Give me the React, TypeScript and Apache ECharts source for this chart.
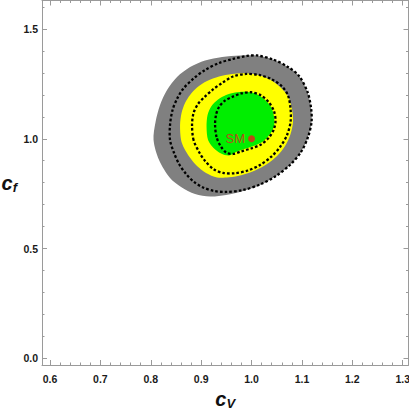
import React, { useEffect, useRef } from "react";
import * as echarts from "echarts";

// Axis ticks
const xMajorTicks = [0.6, 0.7, 0.8, 0.9, 1.0, 1.1, 1.2, 1.3];
const xMinorTicks = [
  0.62, 0.64, 0.66, 0.68, 0.72, 0.74, 0.76, 0.78, 0.82, 0.84, 0.86, 0.88,
  0.92, 0.94, 0.96, 0.98, 1.02, 1.04, 1.06, 1.08, 1.12, 1.14, 1.16, 1.18,
  1.22, 1.24, 1.26, 1.28,
];
const yMajorTicks = [0.0, 0.5, 1.0, 1.5];
const yMinorTicks = [0.1, 0.2, 0.3, 0.4, 0.6, 0.7, 0.8, 0.9, 1.1, 1.2, 1.3, 1.4, 1.6];
const xRange = [0.5841, 1.3115];
const yRange = [-0.0305, 1.6298];

// Filled regions (boundary points c_V, c_f), clockwise from the left
const grayRegion = [
  [0.8055, 0.9945], [0.8095, 1.0765], [0.8184, 1.154], [0.8323, 1.2223], [0.8521, 1.2815],
  [0.878, 1.327], [0.9077, 1.3567], [0.9415, 1.3726], [0.9772, 1.3794], [1.0109, 1.3794],
  [1.0427, 1.3612], [1.0724, 1.327], [1.0943, 1.286], [1.1111, 1.2132], [1.1181, 1.1403],
  [1.1191, 1.0765], [1.1121, 1.0082], [1.0982, 0.9399], [1.0764, 0.8807], [1.0486, 0.8306],
  [1.0169, 0.7896], [0.9831, 0.7622], [0.9494, 0.744], [0.9176, 0.7372], [0.8879, 0.7486],
  [0.8601, 0.7805], [0.8382, 0.8214], [0.8164, 0.9034],
];
const yellowRegion = [
  [0.8601, 0.9945], [0.8581, 1.0629], [0.8611, 1.1175], [0.868, 1.1631], [0.878, 1.1995],
  [0.8918, 1.2337], [0.9117, 1.2633], [0.9355, 1.2838], [0.9613, 1.2952], [0.9871, 1.2984],
  [1.0129, 1.2906], [1.0367, 1.2701], [1.0566, 1.2359], [1.0714, 1.1972], [1.0794, 1.1448],
  [1.0824, 1.0811], [1.0774, 1.0219], [1.0665, 0.9672], [1.0506, 0.9217], [1.0308, 0.8852],
  [1.0069, 0.8556], [0.9811, 0.8351], [0.9553, 0.8246], [0.9315, 0.8237], [0.9097, 0.8442],
  [0.8918, 0.8761], [0.8769, 0.9171], [0.866, 0.9581],
];
const greenRegion = [
  [0.9137, 0.9945], [0.9107, 1.0537], [0.9127, 1.1084], [0.9206, 1.1494], [0.9335, 1.179],
  [0.9494, 1.1995], [0.9673, 1.2109], [0.9871, 1.2145], [1.0069, 1.2063], [1.0248, 1.1813],
  [1.0387, 1.1448], [1.0447, 1.0993], [1.0447, 1.0583], [1.0367, 1.0219], [1.0238, 0.99],
  [1.0089, 0.9718], [0.9871, 0.9545], [0.9692, 0.9399], [0.9553, 0.9239], [0.9395, 0.933],
  [0.9246, 0.9581],
];

// Dashed contours
const outerContour = [
  [0.8382, 0.9945], [0.8382, 1.0629], [0.8432, 1.1312], [0.8521, 1.1813], [0.864, 1.2268],
  [0.8839, 1.2724], [0.9077, 1.3134], [0.9355, 1.3453], [0.9633, 1.3635], [0.9911, 1.3772],
  [1.0109, 1.3794], [1.0427, 1.3612], [1.0724, 1.327], [1.0943, 1.286], [1.1111, 1.2132],
  [1.1181, 1.1403], [1.1191, 1.0765], [1.1121, 1.0082], [1.0982, 0.9399], [1.0764, 0.8807],
  [1.0486, 0.8306], [1.0169, 0.7918], [0.9831, 0.7668], [0.9494, 0.7577], [0.9256, 0.7622],
  [0.9037, 0.7782], [0.8859, 0.8032], [0.87, 0.8397], [0.8561, 0.8852], [0.8462, 0.9353],
];
const middleContour = [
  [0.8849, 0.9945], [0.8819, 1.0629], [0.8849, 1.1175], [0.8938, 1.1585], [0.9057, 1.1881],
  [0.9236, 1.2246], [0.9415, 1.2542], [0.9633, 1.2838], [0.9891, 1.2952], [1.0149, 1.2906],
  [1.0387, 1.2724], [1.0605, 1.2382], [1.0724, 1.1972], [1.0774, 1.1357], [1.0774, 1.0765],
  [1.0705, 1.0173], [1.0566, 0.9626], [1.0387, 0.9171], [1.0169, 0.8807], [0.9931, 0.8556],
  [0.9673, 0.8429], [0.9434, 0.8442], [0.9256, 0.8602], [0.9077, 0.8989], [0.8958, 0.9399],
];
const innerContour = [
  [0.9305, 1.0082], [0.9276, 1.0629], [0.9295, 1.1084], [0.9355, 1.1448], [0.9464, 1.1722],
  [0.9613, 1.1904], [0.9792, 1.2063], [0.999, 1.2118], [1.0189, 1.1972], [1.0347, 1.1653],
  [1.0447, 1.1243], [1.0476, 1.0811], [1.0437, 1.0401], [1.0337, 1.0036], [1.0189, 0.974],
  [0.999, 0.9558], [0.9792, 0.9422], [0.9633, 0.9308], [0.9494, 0.9376], [0.9385, 0.9672],
];

const smPoint = [[1.0, 1.0]];

const frameColor = "#9a9a9a";
const tickFont = {
  fontSize: 10.5,
  fontWeight: "bold" as const,
  color: "#1a1a1a",
  fontFamily: "Liberation Sans, Arial, sans-serif",
};

function regionSeries(pts: number[][], fill: string, z: number) {
  return {
    type: "custom",
    coordinateSystem: "cartesian2d",
    xAxisIndex: 0,
    yAxisIndex: 0,
    data: [pts[0]],
    silent: true,
    z,
    renderItem: (_params: any, api: any) => ({
      type: "polygon",
      shape: { points: pts.map((p) => api.coord(p)), smooth: 0.3 },
      style: { fill, stroke: "none" },
    }),
  };
}

function contourSeries(pts: number[][], z: number) {
  return {
    type: "custom",
    coordinateSystem: "cartesian2d",
    xAxisIndex: 0,
    yAxisIndex: 0,
    data: [pts[0]],
    silent: true,
    z,
    renderItem: (_params: any, api: any) => ({
      type: "polygon",
      shape: { points: pts.map((p) => api.coord(p)), smooth: 0.3 },
      style: { fill: "none", stroke: "#000", lineWidth: 2.3, lineDash: [2.6, 2.1] },
    }),
  };
}

const nameFont = "Liberation Sans, Arial, sans-serif";
const nameRich = {
  c: { fontSize: 20, fontWeight: "bold", fontStyle: "italic", fontFamily: nameFont, color: "#111", lineHeight: 20 },
  s: { fontSize: 13, fontWeight: "bold", fontStyle: "italic", fontFamily: nameFont, color: "#111", lineHeight: 22, verticalAlign: "bottom" },
};

export default function App() {
  const ref = useRef<HTMLDivElement>(null);
  useEffect(() => {
    if (!ref.current) return;
    const chart = echarts.init(ref.current, undefined, { renderer: "svg" });
    const majorX = (position: string, withLabel: boolean) => ({
      type: "value",
      position,
      min: xRange[0],
      max: xRange[1],
      axisLine: { show: true, onZero: false, lineStyle: { color: frameColor, width: 1 } },
      axisTick: { show: true, inside: true, length: 5, customValues: xMajorTicks, lineStyle: { color: frameColor } },
      axisLabel: withLabel
        ? { show: true, customValues: xMajorTicks, formatter: (v: number) => v.toFixed(1), margin: 8, ...tickFont }
        : { show: false },
      splitLine: { show: false },
    });
    const minorX = (position: string) => ({
      type: "value",
      position,
      min: xRange[0],
      max: xRange[1],
      axisLine: { show: false, onZero: false },
      axisTick: { show: true, inside: true, length: 2.5, customValues: xMinorTicks, lineStyle: { color: frameColor } },
      axisLabel: { show: false },
      splitLine: { show: false },
    });
    const majorY = (position: string, withLabel: boolean) => ({
      type: "value",
      position,
      min: yRange[0],
      max: yRange[1],
      axisLine: { show: true, onZero: false, lineStyle: { color: frameColor, width: 1 } },
      axisTick: { show: true, inside: true, length: 5, customValues: yMajorTicks, lineStyle: { color: frameColor } },
      axisLabel: withLabel
        ? { show: true, customValues: yMajorTicks, formatter: (v: number) => v.toFixed(1), margin: 4, ...tickFont }
        : { show: false },
      splitLine: { show: false },
    });
    const minorY = (position: string) => ({
      type: "value",
      position,
      min: yRange[0],
      max: yRange[1],
      axisLine: { show: false, onZero: false },
      axisTick: { show: true, inside: true, length: 2.5, customValues: yMinorTicks, lineStyle: { color: frameColor } },
      axisLabel: { show: false },
      splitLine: { show: false },
    });

    const xMain: any = majorX("bottom", true);
    xMain.name = "{c|c}{s|V}";
    xMain.nameLocation = "middle";
    xMain.nameGap = 20;
    xMain.nameTextStyle = { rich: nameRich };
    const yMain: any = majorY("left", true);
    yMain.name = "{c|c}{s|f}";
    yMain.nameLocation = "middle";
    yMain.nameRotate = 0;
    yMain.nameGap = 25;
    yMain.nameTextStyle = { rich: nameRich };

    chart.setOption({
      animation: false,
      backgroundColor: "#ffffff",
      grid: { left: 42, right: 0.5, top: 0.5, bottom: 45, containLabel: false, outerBoundsMode: "none" },
      xAxis: [xMain, minorX("bottom"), majorX("top", false), minorX("top")],
      yAxis: [yMain, minorY("left"), majorY("right", false), minorY("right")],
      series: [
        regionSeries(grayRegion, "#808080", 1),
        regionSeries(yellowRegion, "#ffff00", 2),
        regionSeries(greenRegion, "#00ee00", 3),
        contourSeries(outerContour, 4),
        contourSeries(middleContour, 5),
        contourSeries(innerContour, 6),
        {
          type: "scatter",
          xAxisIndex: 0,
          yAxisIndex: 0,
          data: smPoint,
          symbol: "circle",
          symbolSize: 7,
          itemStyle: { color: "#ee1c1c" },
          z: 10,
          silent: true,
          label: {
            show: true,
            position: "left",
            distance: 3,
            formatter: "SM",
            color: "#e02020",
            fontSize: 13,
            fontFamily: "Liberation Sans, Arial, sans-serif",
          },
        },
      ],
    });
    return () => chart.dispose();
  }, []);
  return (
    <div
      ref={ref}
      style={{ position: "fixed", left: 0, top: 0, width: 409, height: 410, background: "#fff" }}
    />
  );
}
